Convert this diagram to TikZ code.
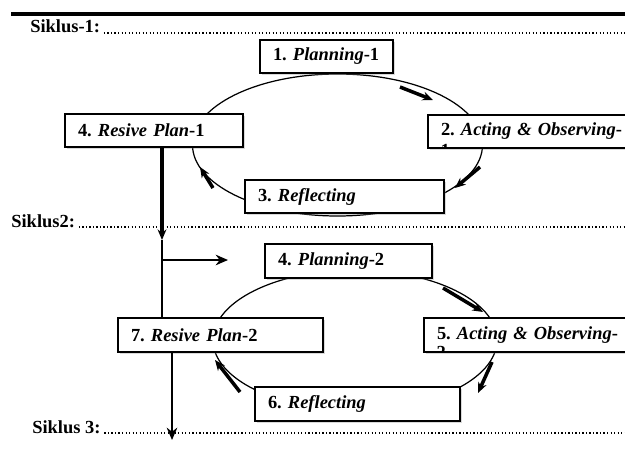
\documentclass[tikz,border=0pt]{standalone}
\usepackage{fontspec}
\setmainfont{Liberation Serif}
\usetikzlibrary{arrows.meta, calc, shadows, shapes.geometric}

\begin{document}
\begin{tikzpicture}[
  every node/.style = {font=\fontsize{10.5}{12}\selectfont\bfseries\frenchspacing},
  stage/.style  = {rectangle, draw, line width=0.9pt, fill=white, align=left, inner xsep=0.26cm, inner ysep=2pt, minimum height=0.67cm, drop shadow={opacity=0.3, shadow xshift=1.2pt, shadow yshift=-1.2pt}},
  cycle/.style  = {ellipse, draw, line width=0.7pt, inner sep=0pt},
  turn/.style   = {-{Stealth[length=6pt, width=5pt]}, line width=2pt},
  flow/.style   = {-{Stealth[length=7pt, width=6pt]}, line width=1.3pt},
  siklus/.style = {anchor=base west, inner sep=0pt},
  leader/.style = {line width=0.7pt, dash pattern=on 0.7pt off 1.3pt},
]
\clip (0,0) rectangle (12.5,9);
\coordinate (edge) at (12.5,0);
% Heading rule and cycle labels
\coordinate (rule) at (0.22,8.72);
\draw[line width=2.3pt] (rule) -- (rule -| edge);
\node[siklus] (s1) at (0.60,8.34) {Siklus-1:};
\node[siklus] (s2) at (0.22,4.46) {Siklus2:};
\node[siklus] (s3) at (0.64,0.34) {Siklus 3:};
\draw[leader] ([xshift=2pt]s1.base east) -- (s1.base east -| edge);
\draw[leader] ([xshift=2pt]s2.base east) -- (s2.base east -| edge);
\draw[leader] ([xshift=2pt]s3.base east) -- (s3.base east -| edge);
% Cycle rings
\node[cycle, minimum width=5.80cm, minimum height=2.84cm] (cyc1) at (6.75,6.10) {};
\node[cycle, minimum width=5.68cm, minimum height=2.80cm] (cyc2) at (7.10,2.20) {};
% Cycle 1
\node[stage, text width=2.14cm] (plan1) at (6.53,7.87) {\mbox{1. \textit{Planning}-1}};
\node[stage, text width=3.04cm] (res1) at (3.08,6.39) {\mbox{4. \textit{Resive Plan}-1}};
\node[stage, text width=3.72cm] (act1) at (10.68,6.37) {\mbox{2. \textit{Acting \& Observing}-}};
\node[stage, text width=3.46cm] (ref1) at (6.89,5.07) {\mbox{3. \textit{Reflecting}}};
% Cycle 2
\node[stage, text width=2.82cm] (plan2) at (6.97,3.78) {\mbox{4. \textit{Planning}-2}};
\node[stage, text width=3.58cm] (res2) at (4.41,2.30) {\mbox{7. \textit{Resive Plan}-2}};
\node[stage, text width=3.80cm] (act2) at (10.64,2.30) {\mbox{5. \textit{Acting \& Observing}-}};
\node[stage, text width=3.58cm] (ref2) at (7.15,0.92) {\mbox{6. \textit{Reflecting}}};
% Wrapped line ends, cut by the box
\begin{scope}
  \clip ([shift={(0.6pt,0.6pt)}]act1.south west) rectangle ([shift={(-0.6pt,-0.6pt)}]act1.north east);
  \node[anchor=north west, inner sep=0pt] (act1wrap) at ($(act1.south west)+(0.26,0.10)$) {1};
\end{scope}
\begin{scope}
  \clip ([shift={(0.6pt,0.6pt)}]act2.south west) rectangle ([shift={(-0.6pt,-0.6pt)}]act2.north east);
  \node[anchor=north west, inner sep=0pt] (act2wrap) at ($(act2.south west)+(0.26,0.14)$) {2};
\end{scope}
% Turn arrows on the rings
\coordinate (a1s) at (8.00,7.26); \coordinate (a1e) at (8.66,7.00);
\coordinate (a2s) at (9.60,5.66); \coordinate (a2e) at (9.10,5.24);
\coordinate (a3s) at (4.26,5.24); \coordinate (a3e) at (4.00,5.66);
\coordinate (b1s) at (8.86,3.24); \coordinate (b1e) at (9.66,2.76);
\coordinate (b2s) at (9.84,1.76); \coordinate (b2e) at (9.56,1.14);
\coordinate (b3s) at (4.80,1.16); \coordinate (b3e) at (4.30,1.80);
\draw[turn] (a1s) -- (a1e);
\draw[turn] (a2s) -- (a2e);
\draw[turn] (a3s) -- (a3e);
\draw[turn] (b1s) -- (b1e);
\draw[turn] (b2s) -- (b2e);
\draw[turn] (b3s) -- (b3e);
% Links between cycles
\coordinate (fork) at (3.24,4.20);
\coordinate (branch) at (3.24,3.80);
\coordinate (branch end) at (4.56,3.80);
\coordinate (exit) at (3.44,0.20);
\draw[turn, line width=2.4pt] (res1.south -| fork) -- (fork);
\draw[line width=1.1pt] (fork) -- (fork |- res2.north);
\draw[flow] (branch) -- (branch end);
\draw[flow] (res2.south -| exit) -- (exit);
\end{tikzpicture}
\end{document}
